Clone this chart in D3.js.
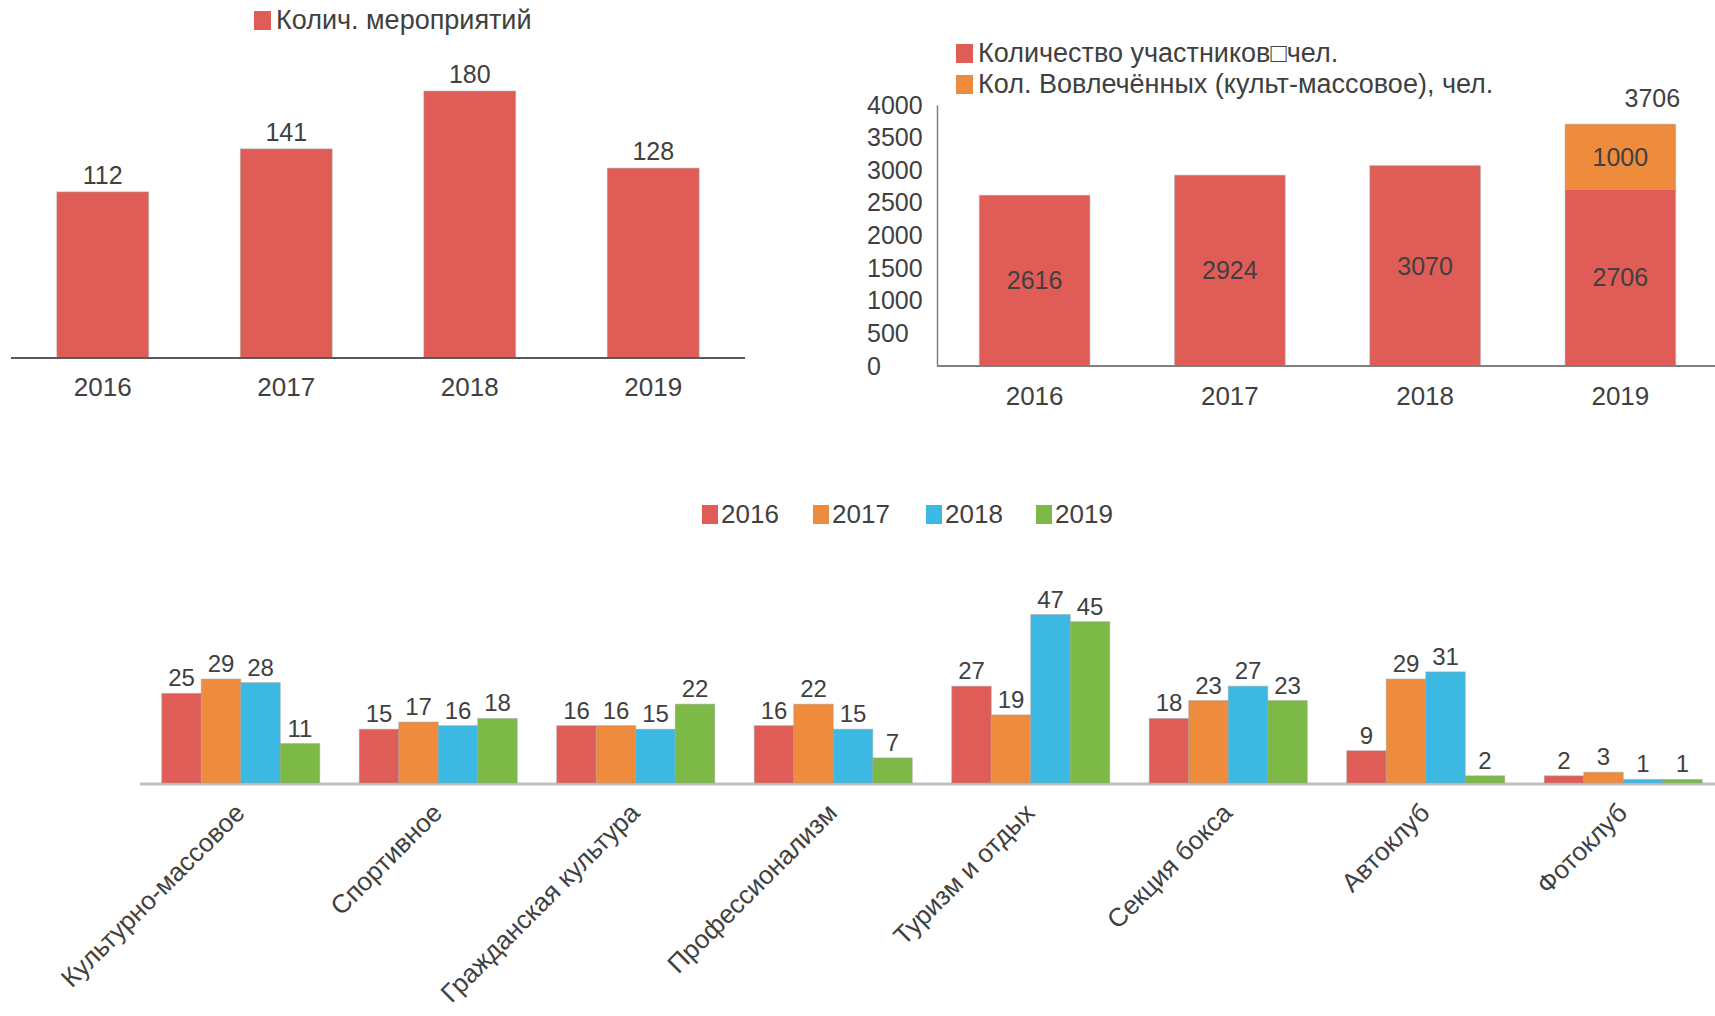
<!DOCTYPE html>
<head>
<meta charset="utf-8">
<title>Мероприятия и участники</title>
<style>
  body { margin: 0; background: #fff; }
  svg text { font-family: "Liberation Sans", Arial, sans-serif; fill: #404040; }
</style>
</head>
<body>
<svg width="1715" height="1016"></svg>
<script src="https://cdn.jsdelivr.net/npm/d3@7"></script>
<script>

var years = ["2016", "2017", "2018", "2019"];

// chart 1: events per year
var eventCounts = [112, 141, 180, 128];

// chart 2: participants per year (stacked)
var participants = [2616, 2924, 3070, 2706];
var involved = [0, 0, 0, 1000];
var participantTicks = [0, 500, 1000, 1500, 2000, 2500, 3000, 3500, 4000];

// chart 3: events by direction and year
var directions = ["Культурно-массовое", "Спортивное", "Гражданская культура", "Профессионализм",
                  "Туризм и отдых", "Секция бокса", "Автоклуб", "Фотоклуб"];
var dir2016 = [25, 15, 16, 16, 27, 18, 9, 2];
var dir2017 = [29, 17, 16, 22, 19, 23, 29, 3];
var dir2018 = [28, 16, 15, 15, 47, 27, 31, 1];
var dir2019 = [11, 18, 22, 7, 45, 23, 2, 1];

var red = "#e05d57", orange = "#ee8b3d", blue = "#3cb9e3", green = "#7cb946";
var yearColors = [red, orange, blue, green];
var barStroke = "#a0a0a0";

var svg = d3.select("svg");

// ---------- chart 1 ----------
var x1 = d3.scaleBand().domain(years).range([11, 745]).paddingInner(0.5).paddingOuter(0.25);
var y1 = d3.scaleLinear().domain([0, 200]).range([358, 61.4]);

var c1 = svg.append("g");
c1.selectAll("rect.bar")
    .data(eventCounts)
  .enter().append("rect")
    .attr("class", "bar")
    .attr("x", function(d, i) { return x1(years[i]); })
    .attr("y", function(d) { return y1(d); })
    .attr("width", x1.bandwidth())
    .attr("height", function(d) { return y1(0) - y1(d); })
    .attr("fill", red)
    .attr("stroke", barStroke).attr("stroke-opacity", 0.5);

c1.selectAll("text.val")
    .data(eventCounts)
  .enter().append("text")
    .attr("class", "val")
    .attr("x", function(d, i) { return x1(years[i]) + x1.bandwidth() / 2; })
    .attr("y", function(d) { return y1(d) - 8; })
    .attr("text-anchor", "middle")
    .attr("font-size", 25)
    .text(function(d) { return d; });

c1.append("line")
    .attr("x1", 11).attr("x2", 745)
    .attr("y1", y1(0)).attr("y2", y1(0))
    .attr("stroke", "#595959").attr("stroke-width", 2);

c1.selectAll("text.cat")
    .data(years)
  .enter().append("text")
    .attr("class", "cat")
    .attr("x", function(d) { return x1(d) + x1.bandwidth() / 2; })
    .attr("y", 396)
    .attr("text-anchor", "middle")
    .attr("font-size", 26)
    .text(function(d) { return d; });

c1.append("rect").attr("x", 254).attr("y", 11).attr("width", 17).attr("height", 19).attr("fill", red);
c1.append("text").attr("x", 276).attr("y", 29).attr("font-size", 27).text("Колич. мероприятий");

// ---------- chart 2 ----------
var x2 = d3.scaleBand().domain(years).range([937, 1718]).paddingInner(0.434).paddingOuter(0.217);
var y2 = d3.scaleLinear().domain([0, 4000]).range([366, 105]);

var c2 = svg.append("g");
var stacked = years.map(function(y, i) {
    return { year: y, base: participants[i], extra: involved[i], total: participants[i] + involved[i] };
});

c2.selectAll("rect.base")
    .data(stacked)
  .enter().append("rect")
    .attr("class", "base")
    .attr("x", function(d) { return x2(d.year); })
    .attr("y", function(d) { return y2(d.base); })
    .attr("width", x2.bandwidth())
    .attr("height", function(d) { return y2(0) - y2(d.base); })
    .attr("fill", red)
    .attr("stroke", barStroke).attr("stroke-opacity", 0.5);

c2.selectAll("rect.extra")
    .data(stacked.filter(function(d) { return d.extra > 0; }))
  .enter().append("rect")
    .attr("class", "extra")
    .attr("x", function(d) { return x2(d.year); })
    .attr("y", function(d) { return y2(d.total); })
    .attr("width", x2.bandwidth())
    .attr("height", function(d) { return y2(d.base) - y2(d.total); })
    .attr("fill", orange)
    .attr("stroke", barStroke).attr("stroke-opacity", 0.5);

c2.selectAll("text.baseval")
    .data(stacked)
  .enter().append("text")
    .attr("class", "baseval")
    .attr("x", function(d) { return x2(d.year) + x2.bandwidth() / 2; })
    .attr("y", function(d) { return (y2(0) + y2(d.base)) / 2; })
    .attr("dy", "0.35em")
    .attr("text-anchor", "middle")
    .attr("font-size", 25)
    .text(function(d) { return d.base; });

c2.selectAll("text.extraval")
    .data(stacked.filter(function(d) { return d.extra > 0; }))
  .enter().append("text")
    .attr("class", "extraval")
    .attr("x", function(d) { return x2(d.year) + x2.bandwidth() / 2; })
    .attr("y", function(d) { return (y2(d.base) + y2(d.total)) / 2; })
    .attr("dy", "0.35em")
    .attr("text-anchor", "middle")
    .attr("font-size", 25)
    .text(function(d) { return d.extra; });

c2.selectAll("text.total")
    .data(stacked.filter(function(d) { return d.extra > 0; }))
  .enter().append("text")
    .attr("class", "total")
    .attr("x", function(d) { return x2(d.year) + x2.bandwidth() / 2 + 32; })
    .attr("y", function(d) { return y2(d.total) - 26; })
    .attr("dy", "0.35em")
    .attr("text-anchor", "middle")
    .attr("font-size", 25)
    .attr("fill", "#3b4650")
    .text(function(d) { return d.total; });

var yAxis2 = c2.append("g")
    .attr("transform", "translate(937,0)")
    .call(d3.axisLeft(y2).tickValues(participantTicks).tickFormat(d3.format("d")).tickSize(0).tickPadding(0));
yAxis2.select(".domain").attr("stroke", "#808080").attr("stroke-width", 1.5);
yAxis2.selectAll("text")
    .attr("x", -70)
    .attr("text-anchor", "start")
    .attr("font-size", 25)
    .attr("font-family", null)
    .attr("fill", "#404040");

c2.append("line")
    .attr("x1", 937).attr("x2", 1715)
    .attr("y1", y2(0)).attr("y2", y2(0))
    .attr("stroke", "#808080").attr("stroke-width", 2);

c2.selectAll("text.cat")
    .data(years)
  .enter().append("text")
    .attr("class", "cat")
    .attr("x", function(d) { return x2(d) + x2.bandwidth() / 2; })
    .attr("y", 405)
    .attr("text-anchor", "middle")
    .attr("font-size", 26)
    .text(function(d) { return d; });

var legend2 = [["Количество участников\u25A1чел.", red], ["Кол. Вовлечённых (культ-массовое), чел.", orange]];
legend2.forEach(function(l, i) {
    c2.append("rect").attr("x", 956).attr("y", 44 + i * 31).attr("width", 17).attr("height", 19).attr("fill", l[1]);
    c2.append("text").attr("x", 978).attr("y", 62 + i * 31).attr("font-size", 27).text(l[0]);
});

// ---------- chart 3 ----------
var series3 = [dir2016, dir2017, dir2018, dir2019];
var x3 = d3.scaleBand().domain(directions).range([142, 1722]).paddingInner(0.2).paddingOuter(0.1);
var x3in = d3.scaleBand().domain(years).range([0, x3.bandwidth()]);
var y3 = d3.scaleLinear().domain([0, 50]).range([783, 603.8]);

var c3 = svg.append("g");

c3.append("line")
    .attr("x1", 140).attr("x2", 1715)
    .attr("y1", y3(0) + 1).attr("y2", y3(0) + 1)
    .attr("stroke", "#c0c0c0").attr("stroke-width", 3);

var groups = c3.selectAll("g.grp")
    .data(directions)
  .enter().append("g")
    .attr("class", "grp")
    .attr("transform", function(d) { return "translate(" + x3(d) + ",0)"; });

groups.selectAll("rect")
    .data(function(d, i) { return years.map(function(y, k) { return { year: y, k: k, v: series3[k][i] }; }); })
  .enter().append("rect")
    .attr("x", function(d) { return x3in(d.year); })
    .attr("y", function(d) { return y3(d.v); })
    .attr("width", x3in.bandwidth())
    .attr("height", function(d) { return y3(0) - y3(d.v); })
    .attr("fill", function(d) { return yearColors[d.k]; })
    .attr("stroke", barStroke).attr("stroke-opacity", 0.5);

groups.selectAll("text")
    .data(function(d, i) { return years.map(function(y, k) { return { year: y, v: series3[k][i] }; }); })
  .enter().append("text")
    .attr("x", function(d) { return x3in(d.year) + x3in.bandwidth() / 2; })
    .attr("y", function(d) { return y3(d.v) - 7; })
    .attr("text-anchor", "middle")
    .attr("font-size", 24)
    .text(function(d) { return d.v; });

c3.selectAll("text.cat")
    .data(directions)
  .enter().append("text")
    .attr("class", "cat")
    .attr("transform", function(d) { return "translate(" + (x3(d) + x3.bandwidth() / 2 - 1) + ",808) rotate(-45)"; })
    .attr("text-anchor", "end")
    .attr("dy", "0.35em")
    .attr("font-size", 26)
    .text(function(d) { return d; });

var legend3 = c3.selectAll("g.leg")
    .data(years)
  .enter().append("g")
    .attr("class", "leg")
    .attr("transform", function(d, i) { return "translate(" + [702, 813, 926, 1036][i] + ",505)"; });
legend3.append("rect").attr("width", 16).attr("height", 19).attr("fill", function(d, i) { return yearColors[i]; });
legend3.append("text").attr("x", 19).attr("y", 18).attr("font-size", 26).text(function(d) { return d; });

</script>
</body>
